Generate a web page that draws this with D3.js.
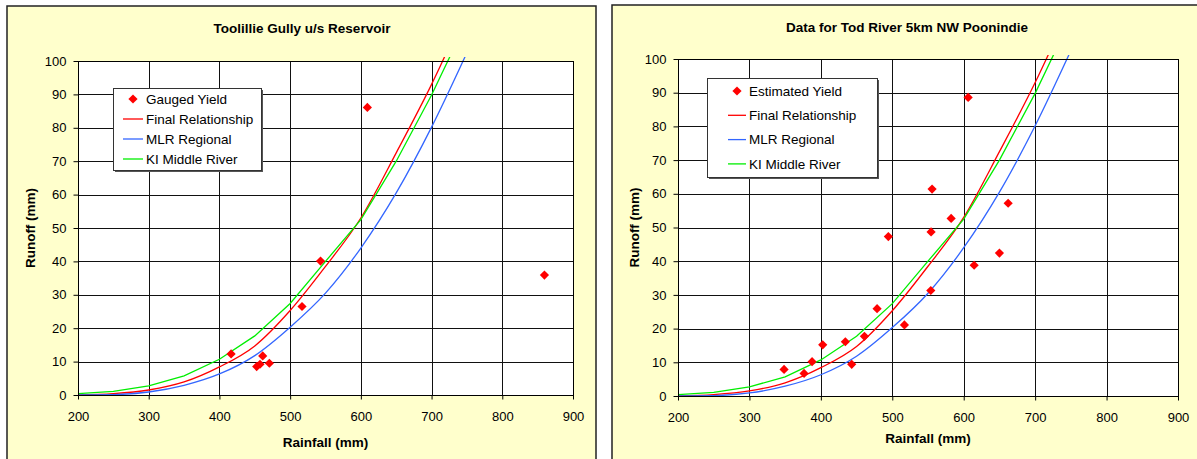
<!DOCTYPE html>
<html>
<head>
<meta charset="utf-8">
<script src="https://cdn.jsdelivr.net/npm/d3@7"></script>
<style>
  body { margin: 0; background: #fff; }
  svg { display: block; font-family: "Liberation Sans", Arial, sans-serif; }
</style>
</head>
<body>
<svg id="chart" width="1197" height="459"></svg>
<script>
// rainfall steps used for the fitted relationships (mm)
let rainfall = [200, 250, 300, 350, 400, 450, 500, 550, 600, 650, 700, 750];
let finalRelationship = [0, 0.4, 1.5, 3.9, 8.4, 14.7, 25.3, 38.5, 53, 72.5, 93, 116];
let mlrRegional = [0, 0.1, 0.9, 2.9, 6.3, 11.8, 20.3, 30.5, 44, 60.5, 80.2, 102.5];
let kiMiddleRiver = [0.4, 1.1, 2.7, 5.7, 10.7, 17.7, 27.4, 40, 52.5, 70, 89.8, 112];

// Toolillie Gully gauged yield
let gaugedRain = [416.5, 452.7, 457.4, 461.2, 470.6, 516.8, 543, 609.2, 859.6];
let gaugedRunoff = [12.3, 8.5, 9.2, 11.7, 9.5, 26.5, 40.1, 86.1, 35.9];

// Tod River estimated yield
let estRain = [348.5, 376.5, 387.7, 402.6, 434.3, 443.2, 461, 478.7, 494.5, 517,
	553.9, 554.3, 555.7, 582.4, 606.2, 614.6, 650, 662.2];
let estRunoff = [7.9, 6.7, 10.2, 15.2, 16.1, 9.4, 17.7, 25.9, 47.3, 21.1,
	31.3, 48.7, 61.4, 52.7, 88.6, 38.8, 42.4, 57.2];

let xTicks = [200, 300, 400, 500, 600, 700, 800, 900];
let yTicks = [0, 10, 20, 30, 40, 50, 60, 70, 80, 90, 100];

let seriesNames = ["Final Relationship", "MLR Regional", "KI Middle River"];
let seriesColors = ["#ff0000", "#3366ff", "#00ee00"];
let seriesValues = [finalRelationship, mlrRegional, kiMiddleRiver];

let svg = d3.select("#chart");

let diamond = "M0,-4.6L4.6,0L0,4.6L-4.6,0Z";

let drawPanel = function (p) {
	let x = d3.scaleLinear().domain([200, 900]).range([p.left, p.right]);
	let y = d3.scaleLinear().domain([0, 100]).range([p.bottom, p.top]);
	let g = svg.append("g");

	// chart area
	g.append("rect")
		.attr("x", p.boxX).attr("y", p.boxY)
		.attr("width", p.boxW).attr("height", 500)
		.attr("fill", "#ffffcc")
		.attr("stroke", "#222")
		.attr("stroke-width", 1.5);

	g.append("rect")
		.attr("x", p.left).attr("y", p.top)
		.attr("width", p.right - p.left).attr("height", p.bottom - p.top)
		.attr("fill", "#fff");

	// grid
	g.append("g").selectAll("line")
		.data(yTicks.slice(1, -1))
		.join("line")
		.attr("x1", p.left).attr("x2", p.right)
		.attr("y1", (d) => Math.round(y(d)) + 0.5)
		.attr("y2", (d) => Math.round(y(d)) + 0.5)
		.attr("stroke", "#111");
	g.append("g").selectAll("line")
		.data(xTicks.slice(1, -1))
		.join("line")
		.attr("y1", p.top).attr("y2", p.bottom)
		.attr("x1", (d) => Math.round(x(d)) + 0.5)
		.attr("x2", (d) => Math.round(x(d)) + 0.5)
		.attr("stroke", "#111");

	let clipId = "clip" + p.id;
	svg.append("clipPath").attr("id", clipId)
		.append("rect")
		.attr("x", p.left).attr("y", p.top - 4)
		.attr("width", p.right - p.left).attr("height", p.bottom - p.top + 4);

	let lines = g.append("g").attr("clip-path", "url(#" + clipId + ")");
	seriesValues.forEach(function (vals, i) {
		let line = d3.line()
			.x((d, j) => x(rainfall[j]))
			.y((d) => y(d))
			.curve(i === 2 ? d3.curveLinear : d3.curveMonotoneX);
		lines.append("path")
			.attr("d", line(vals))
			.attr("fill", "none")
			.attr("stroke", seriesColors[i])
			.attr("stroke-width", 1.3);
	});

	g.append("g").selectAll("path")
		.data(p.rain)
		.join("path")
		.attr("d", diamond)
		.attr("transform", (d, i) => "translate(" + x(d) + "," + y(p.runoff[i]) + ")")
		.attr("fill", "#ff0000");

	g.append("rect")
		.attr("x", p.left + 0.5).attr("y", p.top + 0.5)
		.attr("width", p.right - p.left).attr("height", p.bottom - p.top)
		.attr("fill", "none")
		.attr("stroke", "#000");

	// axes
	let xAxis = g.append("g")
		.attr("transform", "translate(0," + (p.bottom + 0.5) + ")")
		.call(d3.axisBottom(x).tickValues(xTicks).tickSize(4).tickPadding(12).tickSizeOuter(0));
	let yAxis = g.append("g")
		.attr("transform", "translate(" + (p.left + 0.5) + ",0)")
		.call(d3.axisLeft(y).tickValues(yTicks).tickSize(5).tickPadding(7).tickSizeOuter(0));
	[xAxis, yAxis].forEach(function (a) {
		a.select(".domain").remove();
		a.selectAll("line").attr("stroke", "#000");
		a.selectAll("text")
			.attr("fill", "#000")
			.style("font-size", "13px")
			.style("font-family", "'Liberation Sans', Arial, sans-serif");
	});

	g.append("text")
		.attr("x", p.titleX).attr("y", p.titleY)
		.attr("text-anchor", "middle")
		.style("font-size", "13.5px").style("font-weight", "bold")
		.text(p.title);
	g.append("text")
		.attr("x", (p.left + p.right) / 2).attr("y", p.xLabelY)
		.attr("text-anchor", "middle")
		.style("font-size", "13.5px").style("font-weight", "bold")
		.text("Rainfall (mm)");
	g.append("text")
		.attr("transform", "translate(" + p.yLabelX + "," + (p.top + p.bottom) / 2 + ") rotate(-90)")
		.attr("text-anchor", "middle")
		.style("font-size", "13.5px").style("font-weight", "bold")
		.text("Runoff (mm)");

	// legend
	let L = p.legend;
	g.append("rect")
		.attr("x", L.x + 2).attr("y", L.y + 2)
		.attr("width", L.w).attr("height", L.h)
		.attr("fill", "#555");
	g.append("rect")
		.attr("x", L.x + 0.5).attr("y", L.y + 0.5)
		.attr("width", L.w).attr("height", L.h)
		.attr("fill", "#fff")
		.attr("stroke", "#333");
	let names = [p.pointName].concat(seriesNames);
	names.forEach(function (name, i) {
		let cy = L.y + L.first + i * L.step;
		if (i === 0) {
			g.append("path")
				.attr("d", diamond)
				.attr("transform", "translate(" + (L.symX + L.symW / 2) + "," + cy + ")")
				.attr("fill", "#ff0000");
		} else {
			g.append("line")
				.attr("x1", L.symX).attr("x2", L.symX + L.symW)
				.attr("y1", cy).attr("y2", cy)
				.attr("stroke", seriesColors[i - 1])
				.attr("stroke-width", 1.3);
		}
		g.append("text")
			.attr("x", L.symX + L.symW + 3).attr("y", cy)
			.attr("dy", "0.36em")
			.style("font-size", "13.5px")
			.text(name);
	});
};

drawPanel({
	id: "a",
	boxX: 7, boxY: 6, boxW: 589,
	left: 78, right: 573, top: 61, bottom: 395,
	title: "Toolillie Gully u/s Reservoir", titleX: 302, titleY: 33,
	xLabelY: 447, yLabelX: 35,
	rain: gaugedRain, runoff: gaugedRunoff, pointName: "Gauged Yield",
	legend: { x: 113, y: 88, w: 148, h: 82, first: 11, step: 20, symX: 123, symW: 20 },
});

drawPanel({
	id: "b",
	boxX: 612, boxY: 5, boxW: 620,
	left: 678, right: 1178, top: 59, bottom: 396,
	title: "Data for Tod River 5km NW Poonindie", titleX: 907, titleY: 32,
	xLabelY: 443, yLabelX: 639,
	rain: estRain, runoff: estRunoff, pointName: "Estimated Yield",
	legend: { x: 707, y: 78, w: 170, h: 99, first: 13, step: 24.3, symX: 728, symW: 18 },
});
</script>
</body>
</html>
